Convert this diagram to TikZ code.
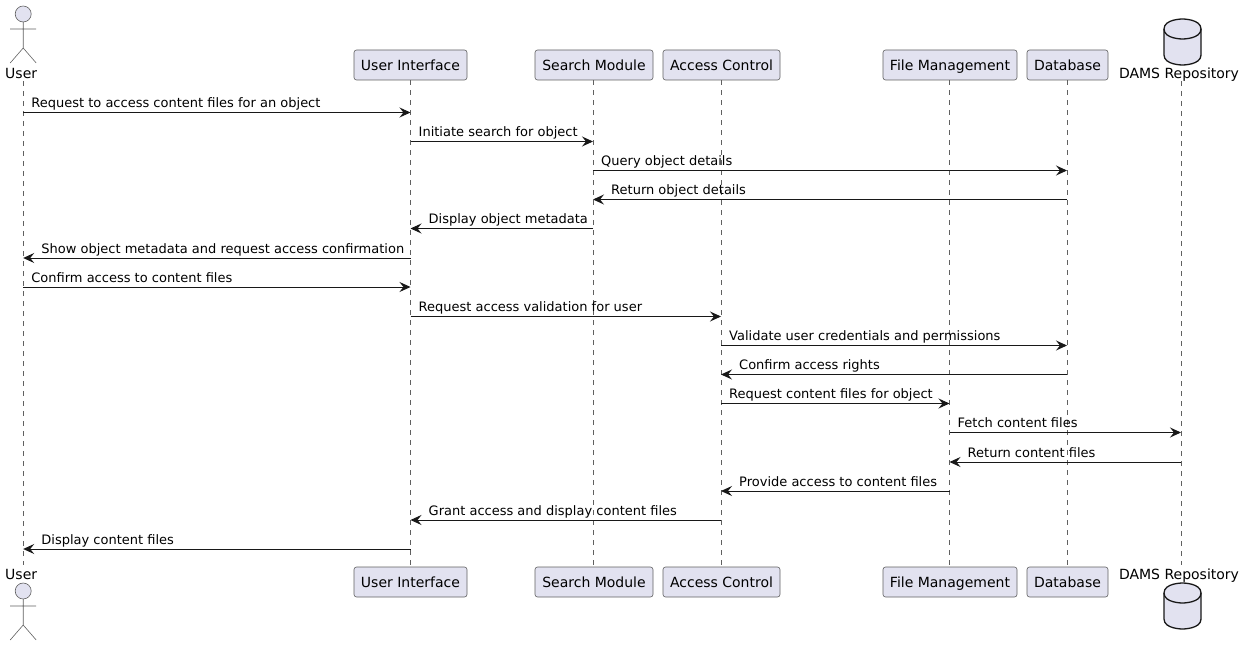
\documentclass[tikz,border=0pt]{standalone}
\usepackage{fontspec}
\setmainfont{DejaVu Sans}
\usetikzlibrary{arrows.meta}
\definecolor{pfill}{HTML}{E2E2F0}
\definecolor{pline}{HTML}{181818}
\definecolor{pthin}{HTML}{606060}
\tikzset{
  x=1pt,y=-1pt,
  box/.style={draw=pthin,fill=pfill,line width=0.6pt,rounded corners=2.5pt,minimum height=30pt,inner sep=0pt,text height=14.5pt,text depth=3pt,font=\fontsize{14}{16}\selectfont},
  life/.style={draw=pthin,line width=0.6pt,dash pattern=on 5pt off 5pt},
  msg/.style={draw=pline,line width=1pt,-{Stealth[length=11pt,width=10pt,inset=4pt]}},
  mlabel/.style={anchor=base west,inner sep=0pt,font=\fontsize{13}{15}\selectfont,text=black},
  plabel/.style={anchor=base,inner sep=0pt,font=\fontsize{14}{16}\selectfont,text=black},
  actorline/.style={draw=pthin,line width=0.6pt},
  dbshape/.style={draw=pline,fill=pfill,line width=1.3pt},
}
\newcommand{\dbcyl}[2]{%
  \draw[dbshape] (#1-18.5,#2+10) .. controls (#1-18.5,#2) and (#1,#2) .. (#1,#2)
    .. controls (#1,#2) and (#1+18.5,#2) .. (#1+18.5,#2+10)
    -- (#1+18.5,#2+36) .. controls (#1+18.5,#2+46) and (#1,#2+46) .. (#1,#2+46)
    .. controls (#1,#2+46) and (#1-18.5,#2+46) .. (#1-18.5,#2+36) -- cycle;
  \draw[dbshape,fill=none] (#1-18.5,#2+10) .. controls (#1-18.5,#2+20) and (#1,#2+20) .. (#1,#2+20)
    .. controls (#1,#2+20) and (#1+18.5,#2+20) .. (#1+18.5,#2+10);
}
\newcommand{\stick}[2]{%
  \draw[actorline,fill=pfill] (#1,#2) circle[radius=8];
  \draw[actorline] (#1,#2+8) -- (#1,#2+34) (#1-13,#2+15) -- (#1+13,#2+15)
    (#1-13,#2+49) -- (#1,#2+34) -- (#1+13,#2+49);
}
\begin{document}
\begin{tikzpicture}
\useasboundingbox (0,0) rectangle (1245,647);
\coordinate (tUser) at (23.2,81); \coordinate (bUser) at (23.2,565);
\coordinate (tDams) at (1181,81); \coordinate (bDams) at (1181,565);
\coordinate (A) at (23.2,0); \coordinate (B) at (410.5,0); \coordinate (C) at (593,0);
\coordinate (D) at (721,0); \coordinate (E) at (949.5,0); \coordinate (F) at (1067,0);
\coordinate (G) at (1181,0);
\path (410.5,65) node[box,minimum width=113pt] (tUI) {User Interface}
      (594,65) node[box,minimum width=118pt] (tSearch) {Search Module}
      (721.5,65) node[box,minimum width=117pt] (tAccess) {Access Control}
      (950,65) node[box,minimum width=134pt] (tFile) {File Management}
      (1067.5,65) node[box,minimum width=81pt] (tDB) {Database}
      (410.5,582) node[box,minimum width=113pt] (bUI) {User Interface}
      (594,582) node[box,minimum width=118pt] (bSearch) {Search Module}
      (721.5,582) node[box,minimum width=117pt] (bAccess) {Access Control}
      (950,582) node[box,minimum width=134pt] (bFile) {File Management}
      (1067.5,582) node[box,minimum width=81pt] (bDB) {Database};
\draw[life] (tUser) -- (bUser);
\draw[life] (B |- tUI.south) -- (B |- bUI.north);
\draw[life] (C |- tSearch.south) -- (C |- bSearch.north);
\draw[life] (D |- tAccess.south) -- (D |- bAccess.north);
\draw[life] (E |- tFile.south) -- (E |- bFile.north);
\draw[life] (F |- tDB.south) -- (F |- bDB.north);
\draw[life] (tDams) -- (bDams);
\stick{23.2}{14}
\stick{23.2}{591}
\node[plabel] (userT) at (21.2,78.8) {User};
\node[plabel] (userB) at (21.2,579) {User};
\dbcyl{1182.5}{19}
\dbcyl{1182.5}{583}
\node[plabel] (damsT) at (1179,78.8) {DAMS Repository};
\node[plabel] (damsB) at (1179,579) {DAMS Repository};
\foreach \y/\f/\t/\dx/\txt in {
  112.5/A/B/8/{Request to access content files for an object},
  141.5/B/C/8/{Initiate search for object},
  170.5/C/F/8/{Query object details},
  199.5/F/C/18/{Return object details},
  228.5/C/B/18/{Display object metadata},
  258/B/A/18/{Show object metadata and request access confirmation},
  287/A/B/8/{Confirm access to content files},
  316.5/B/D/8/{Request access validation for user},
  345.5/D/F/8/{Validate user credentials and permissions},
  374.5/F/D/18/{Confirm access rights},
  403.5/D/E/8/{Request content files for object},
  432.5/E/G/8/{Fetch content files},
  462/G/E/18/{Return content files},
  491/E/D/18/{Provide access to content files},
  520/D/B/18/{Grant access and display content files},
  549/B/A/18/{Display content files}}{
  \coordinate (r) at (0,\y);
  \draw[msg] (\f |- r) -- (\t |- r);
  \ifnum\dx=8
    \node[mlabel] at ([shift={(\dx,-4.7)}]\f |- r) {\txt};
  \else
    \node[mlabel] at ([shift={(\dx,-4.7)}]\t |- r) {\txt};
  \fi
}
\end{tikzpicture}
\end{document}
